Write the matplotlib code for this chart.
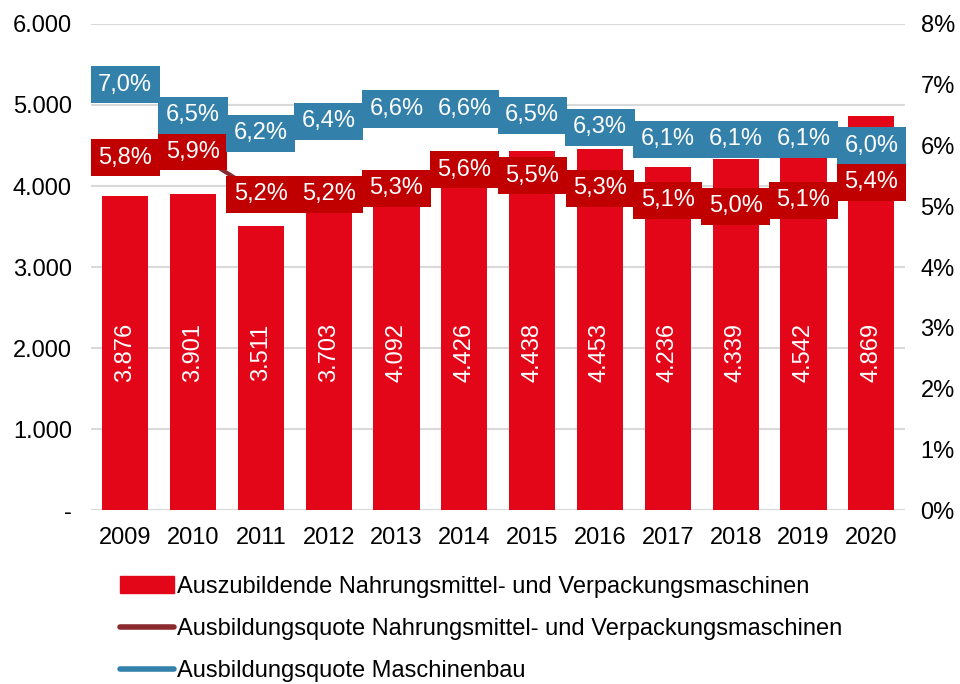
import matplotlib.pyplot as plt
import matplotlib.ticker as mticker
from matplotlib.patches import Patch
from matplotlib.lines import Line2D

plt.rcParams['font.family'] = ['Liberation Sans', 'DejaVu Sans']

years = ['2009', '2010', '2011', '2012', '2013', '2014',
         '2015', '2016', '2017', '2018', '2019', '2020']
azubis = [3876, 3901, 3511, 3703, 4092, 4426, 4438, 4453, 4236, 4339, 4542, 4869]
quote_nv = [5.8, 5.9, 5.2, 5.2, 5.3, 5.6, 5.5, 5.3, 5.1, 5.0, 5.1, 5.4]
quote_mb = [7.0, 6.5, 6.2, 6.4, 6.6, 6.6, 6.5, 6.3, 6.1, 6.1, 6.1, 6.0]

bar_color = '#E30618'
nv_line = '#8B2A2E'
nv_box = '#C00000'
mb_color = '#3380AA'

fig = plt.figure(figsize=(9.6, 6.84), dpi=100)
ax = fig.add_axes([0.095, 0.254, 0.848, 0.711])
x = list(range(len(years)))

ax.bar(x, azubis, width=0.68, color=bar_color, zorder=2)
for xi, v in zip(x, azubis):
    ax.text(xi, 1950, f'{v:,}'.replace(',', '.'), rotation=90, ha='center', va='center',
            color='white', fontsize=17, zorder=3)

ax.set_xlim(-0.5, len(years) - 0.5)
ax.set_ylim(0, 6000)
ax.set_yticks(range(0, 6001, 1000))
ax.yaxis.set_major_formatter(mticker.FuncFormatter(
    lambda v, p: '-' if v == 0 else f'{int(v):,}'.replace(',', '.')))
ax.set_xticks(x)
ax.set_xticklabels(years)
ax.grid(axis='y', color='#D9D9D9', linewidth=1.5, zorder=0)
ax.set_axisbelow(True)
for s in ax.spines.values():
    s.set_visible(False)
ax.tick_params(length=0, labelsize=17, pad=12)
ax.tick_params(axis='y', pad=14)

ax2 = ax.twinx()
ax2.set_ylim(0, 8)
ax2.set_yticks(range(0, 9))
ax2.yaxis.set_major_formatter(mticker.FuncFormatter(lambda v, p: f'{int(v)}%'))
for s in ax2.spines.values():
    s.set_visible(False)
ax2.tick_params(length=0, labelsize=17, pad=11)

ax2.plot(x, quote_nv, color=nv_line, linewidth=3, zorder=3)
ax2.plot(x, quote_mb, color=mb_color, linewidth=3, zorder=3)
for xi, v in zip(x, quote_nv):
    ax2.text(xi, v, f'{v:.1f}%'.replace('.', ','), ha='center', va='center', color='white',
             fontsize=17, zorder=4,
             bbox=dict(boxstyle='square,pad=0.32', fc=nv_box, ec='none'))
for xi, v in zip(x, quote_mb):
    ax2.text(xi, v, f'{v:.1f}%'.replace('.', ','), ha='center', va='center', color='white',
             fontsize=17, zorder=4,
             bbox=dict(boxstyle='square,pad=0.32', fc=mb_color, ec='none'))

handles = [
    Patch(color=bar_color),
    Line2D([0], [0], color=nv_line, linewidth=4, solid_capstyle='round'),
    Line2D([0], [0], color=mb_color, linewidth=4, solid_capstyle='round'),
]
labels = [
    'Auszubildende Nahrungsmittel- und Verpackungsmaschinen',
    'Ausbildungsquote Nahrungsmittel- und Verpackungsmaschinen',
    'Ausbildungsquote Maschinenbau',
]
fig.legend(handles, labels, loc='upper left', bbox_to_anchor=(0.125, 0.158),
           frameon=False, fontsize=17, handlelength=2.3, handletextpad=0.1,
           labelspacing=0.85, borderaxespad=0, borderpad=0)

fig.savefig('out.png', dpi=100)
